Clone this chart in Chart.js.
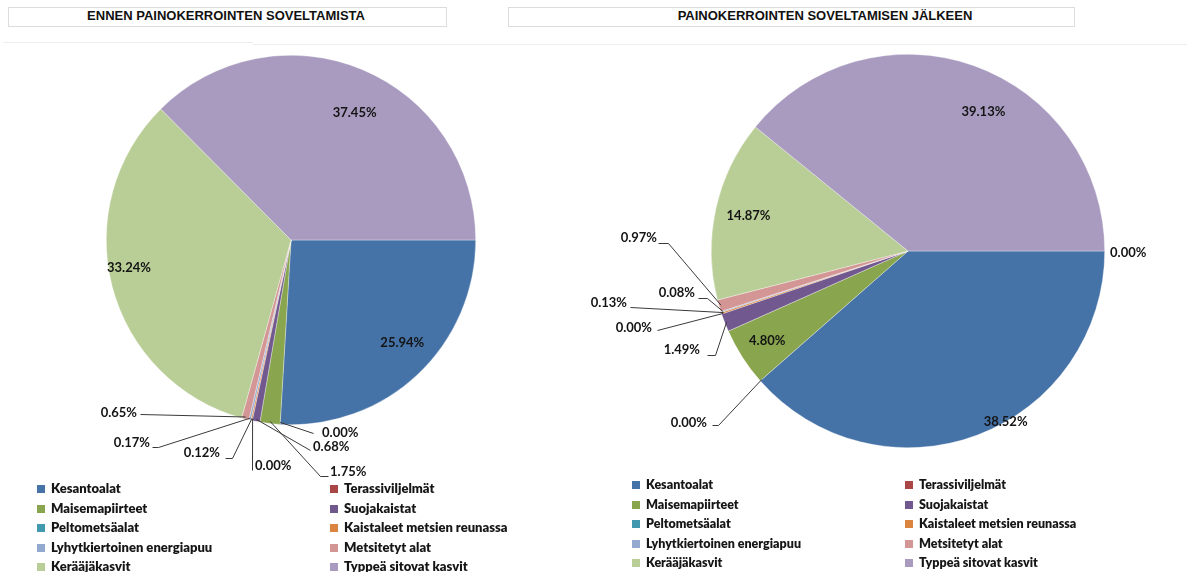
<!DOCTYPE html>
<html><head><meta charset="utf-8">
<script src="https://cdn.jsdelivr.net/npm/chart.js@4.4.1/dist/chart.umd.min.js"></script>
<style>
html,body{margin:0;padding:0;background:#fff;}
body{width:1187px;height:572px;position:relative;overflow:hidden;font-family:Lato,"Open Sans",sans-serif;}
canvas{position:absolute;top:0;}
.tbox{position:absolute;border:1px solid #dcdcdc;box-sizing:border-box;}
.ttl{position:absolute;font:bold 13px "Liberation Sans",Arial,sans-serif;color:#111;white-space:nowrap;transform:translateX(-50%);line-height:14px;}
.hl{position:absolute;height:1px;background:#eeeeee;}
.leg{position:absolute;font-weight:800;color:#161616;white-space:nowrap;}
.leg .sw{display:inline-block;width:8px;height:8px;margin-right:6px;vertical-align:0px;}
</style></head>
<body>
<div class="tbox" style="left:8px;top:7px;width:439px;height:20px"></div>
<div class="tbox" style="left:508px;top:7px;width:567px;height:20px"></div>
<div class="hl" style="left:3px;top:42px;width:250px"></div>
<div class="hl" style="left:253px;top:44px;width:934px"></div>
<div id="t1" class="ttl" style="left:226px;top:9px"></div>
<div id="t2" class="ttl" style="left:825px;top:9px"></div>
<canvas id="c1" width="590" height="572" style="left:0"></canvas>
<canvas id="c2" width="597" height="572" style="left:590px"></canvas>
<div id="leg1"></div>
<div id="leg2"></div>
<script>
// ---- data ----
const titleBefore = "ENNEN PAINOKERROINTEN SOVELTAMISTA";
const titleAfter = "PAINOKERROINTEN SOVELTAMISEN JÄLKEEN";
const categories = ["Kesantoalat","Terassiviljelmät","Maisemapiirteet","Suojakaistat","Peltometsäalat","Kaistaleet metsien reunassa","Lyhytkiertoinen energiapuu","Metsitetyt alat","Kerääjäkasvit","Typpeä sitovat kasvit"];
const valuesBefore = [25.94, 0.00, 1.75, 0.68, 0.00, 0.12, 0.17, 0.65, 33.24, 37.45];
const valuesAfter  = [38.52, 0.00, 4.80, 1.49, 0.00, 0.13, 0.08, 0.97, 14.87, 39.13, 0.00];
const colors = ["#4572A7","#AA4643","#89A54E","#71588F","#4198AF","#DB843D","#93A9CF","#D49694","#B9CD96","#A89BBF"];

// ---- label layout (relative to pie centre) ----
const layoutBefore = [
  {t:'in', f:0.82, da:-4},
  {t:'out', tx:31, ty:193, al:'left', pts:[[22,193]]},
  {t:'out', tx:39, ty:232, al:'left', pts:[[29,236],[37,236]]},
  {t:'out', tx:22, ty:207, al:'left', pts:[[19,210]]},
  {t:'out', tx:-36, ty:226, al:'left', pts:[[-39,230]]},
  {t:'out', tx:-71, ty:213, al:'right', pts:[[-59,218],[-66,218]]},
  {t:'out', tx:-141, ty:203, al:'right', pts:[[-133,207],[-139,207]]},
  {t:'out', tx:-154, ty:173, al:'right', pts:[[-151,174]]},
  {t:'in', f:0.89, da:5},
  {t:'in', f:0.77, da:4}
];
const layoutAfter = [
  {t:'in', f:0.95, da:-8, dx:8, dy:7},
  {t:'out', tx:-201, ty:172, al:'right', pts:[[-190,174],[-196,174]]},
  {t:'in', f:0.85, da:0},
  {t:'out', tx:-208, ty:99, al:'right', pts:[[-193,104],[-201,104]]},
  {t:'out', tx:-256, ty:77, al:'right', pts:[[-251,79]]},
  {t:'out', tx:-281, ty:52, al:'right', pts:[[-278,56]]},
  {t:'out', tx:-213, ty:42, al:'right', pts:[[-201,47],[-210,47]]},
  {t:'out', tx:-251, ty:-13, al:'right', pts:[[-240,-8],[-250,-8]]},
  {t:'in', f:0.83, da:0},
  {t:'in', f:0.75, da:0, dx:26, dy:0},
  {t:'free', tx:202, ty:2, al:'left'}
];

document.getElementById('t1').textContent = titleBefore;
document.getElementById('t2').textContent = titleAfter;

const labelPlugin = {
  id:'pieLabels',
  afterDatasetsDraw(chart, args, opts){
    const ctx = chart.ctx;
    const meta = chart.getDatasetMeta(0);
    const vals = chart.data.datasets[0].data;
    const lay = opts.layout;
    ctx.save();
    ctx.font = 'bold 13px Lato, "Open Sans", sans-serif';
    ctx.fillStyle = '#141414';
    ctx.textBaseline = 'middle';
    meta.data.forEach((arc, i) => {
      const L = lay[i]; if (!L) return;
      const cx = arc.x, cy = arc.y, R = arc.outerRadius;
      const mid = (arc.startAngle + arc.endAngle)/2;
      const txt = vals[i].toFixed(2) + '%';
      if (L.t === 'in') {
        const a = mid + (L.da||0)*Math.PI/180;
        ctx.textAlign = 'center';
        ctx.fillText(txt, cx + Math.cos(a)*R*L.f + (L.dx||0), cy + Math.sin(a)*R*L.f + (L.dy||0));
      } else {
        if (L.t === 'out') {
          ctx.strokeStyle = '#3a3a3a'; ctx.lineWidth = 1;
          ctx.beginPath();
          ctx.moveTo(cx + Math.cos(mid)*(R-2), cy + Math.sin(mid)*(R-2));
          L.pts.forEach(p => ctx.lineTo(cx + p[0] + 0.5, cy + p[1] + 0.5));
          ctx.stroke();
        }
        ctx.textAlign = L.al;
        ctx.fillText(txt, cx + L.tx, cy + L.ty);
      }
    });
    ctx.restore();
  }
};

function makePie(id, labels, values, layout, pad){
  return new Chart(document.getElementById(id), {
    type:'pie',
    data:{ labels: labels, datasets:[{ data: values, backgroundColor: labels.map((l,i)=>colors[i % colors.length]), borderColor:'rgba(255,255,255,0.55)', borderWidth:0.6 }]},
    options:{
      responsive:false, animation:false, devicePixelRatio:1,
      rotation:90,
      layout:{ padding: pad },
      plugins:{ legend:{display:false}, tooltip:{enabled:false}, title:{display:false}, pieLabels:{ layout: layout } }
    },
    plugins:[labelPlugin]
  });
}
makePie('c1', categories, valuesBefore, layoutBefore, {left:106, right:114, top:55, bottom:147});
makePie('c2', categories.concat(['']), valuesAfter, layoutAfter, {left:121, right:82, top:54, bottom:124});

function buildLegend(id, x1, x2, y0, dy, fs){
  const host = document.getElementById(id);
  categories.forEach((name, i) => {
    const d = document.createElement('div');
    d.className = 'leg';
    const col = i % 2, row = Math.floor(i/2);
    d.style.left = (col ? x2 : x1) + 'px';
    d.style.top = (y0 + row*dy) + 'px';
    d.style.fontSize = fs + 'px';
    d.style.lineHeight = '16px';
    const sw = document.createElement('span');
    sw.className = 'sw'; sw.style.background = colors[i];
    d.appendChild(sw);
    d.appendChild(document.createTextNode(name));
    host.appendChild(d);
  });
}
buildLegend('leg1', 37, 330, 480, 19.5, 13);
buildLegend('leg2', 632, 905, 477, 19.6, 12.5);
</script>
</body></html>
